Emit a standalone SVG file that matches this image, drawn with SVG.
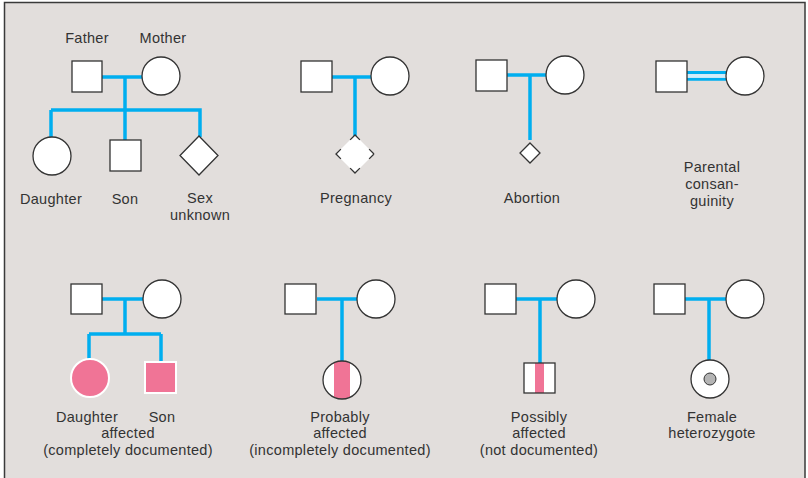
<svg xmlns="http://www.w3.org/2000/svg" width="808" height="478" viewBox="0 0 808 478">
<style>
.bg{fill:#e2dedc;stroke:#3a3a3a;stroke-width:1.5}
.sym{fill:#fff;stroke:#333;stroke-width:1.3}
.aff{fill:#f07496;stroke:#fff;stroke-width:2}
.ln{fill:none;stroke:#00aeef;stroke-width:3.5}
.ln2{fill:none;stroke:#00aeef;stroke-width:3}
text{font-family:"Liberation Sans",Arial,sans-serif;font-size:14.5px;letter-spacing:0.3px;fill:#333;text-anchor:middle}
</style>
<defs>
<clipPath id="cc"><circle cx="342" cy="380" r="19"/></clipPath>
</defs>
<rect class="bg" x="4.5" y="2.5" width="800.5" height="480"/>
<g id="connectors">
<path class="ln" d="M102 77H142M125 77V110M51 110H200V137M51 110V137M125 110V140"/>
<path class="ln" d="M332 77H371M355 77V137"/>
<path class="ln" d="M507 75H546M530 75V140"/>
<path class="ln2" d="M687 72.5H726M687 79.3H726"/>
<path d="M687 76H726" stroke="#cfeefc" stroke-width="3.5" fill="none"/>
<path class="ln" d="M102 299H143M125 299V334M89 334H161M89 334V360M161 334V361"/>
<path class="ln" d="M317 299H357M342 299V361"/>
<path class="ln" d="M516 299H557M540 299V363"/>
<path class="ln" d="M685 299H726M709 299V361"/>
</g>
<g id="father1"><rect class="sym" x="72" y="61" width="30" height="31"/><text x="87" y="43">Father</text></g>
<g id="mother1"><circle class="sym" cx="161" cy="76" r="19"/><text x="163" y="43">Mother</text></g>
<g id="daughter"><circle class="sym" cx="52" cy="156" r="19"/><text x="51" y="204">Daughter</text></g>
<g id="son"><rect class="sym" x="110" y="140" width="31" height="31"/><text x="125" y="204">Son</text></g>
<g id="sexunknown"><path class="sym" d="M199 136L218 155.5L199 175L180 155.5Z"/><text x="200" y="203">Sex</text><text x="200" y="220">unknown</text></g>

<g id="father2"><rect class="sym" x="301" y="61" width="31" height="31"/></g>
<g id="mother2"><circle class="sym" cx="390" cy="76" r="19"/></g>
<g id="pregnancy"><path d="M355 135L374 154L355 173L336 154Z" fill="#fff"/><path d="M355 135L374 154L355 173L336 154Z" fill="none" stroke="#333" stroke-width="1.3" stroke-dasharray="6.9 13.07 6.9 0"/><text x="356" y="203">Pregnancy</text></g>

<g id="father3"><rect class="sym" x="476" y="60" width="31" height="31"/></g>
<g id="mother3"><circle class="sym" cx="565" cy="75" r="19"/></g>
<g id="abortion"><path class="sym" d="M530 143L540 153L530 163L520 153Z"/><text x="532" y="203">Abortion</text></g>

<g id="father4"><rect class="sym" x="656" y="61" width="31" height="31"/></g>
<g id="mother4"><circle class="sym" cx="745" cy="76" r="19"/></g>
<g id="consanguinity"><text x="712" y="172">Parental</text><text x="712" y="189">consan-</text><text x="712" y="205.5">guinity</text></g>

<g id="father5"><rect class="sym" x="71" y="284" width="31" height="30"/></g>
<g id="mother5"><circle class="sym" cx="162" cy="299" r="19"/></g>
<g id="daughteraff"><circle class="aff" cx="90" cy="378" r="19"/><text x="87" y="421.5">Daughter</text></g>
<g id="sonaff"><rect class="aff" x="145" y="362" width="31" height="31"/><text x="162" y="421.5">Son</text></g>
<g id="labelaff"><text x="128" y="438">affected</text><text x="128" y="454.5">(completely documented)</text></g>

<g id="father6"><rect class="sym" x="285" y="284" width="31" height="30"/></g>
<g id="mother6"><circle class="sym" cx="376" cy="299" r="19"/></g>
<g id="probably"><circle cx="342" cy="380" r="19" fill="#fff"/><rect x="334" y="360" width="16" height="40" fill="#f07496" clip-path="url(#cc)"/><circle cx="342" cy="380" r="19" fill="none" stroke="#333" stroke-width="1.3"/><text x="340" y="421.5">Probably</text><text x="340" y="438">affected</text><text x="340" y="454.5">(incompletely documented)</text></g>

<g id="father7"><rect class="sym" x="485" y="284" width="31" height="30"/></g>
<g id="mother7"><circle class="sym" cx="576" cy="299" r="19"/></g>
<g id="possibly"><rect x="524" y="363" width="31" height="30" fill="#fff"/><rect x="535" y="363" width="9" height="30" fill="#f07496"/><rect x="524" y="363" width="31" height="30" fill="none" stroke="#333" stroke-width="1.3"/><text x="539" y="421.5">Possibly</text><text x="539" y="438">affected</text><text x="539" y="454.5">(not documented)</text></g>

<g id="father8"><rect class="sym" x="654" y="284" width="31" height="30"/></g>
<g id="mother8"><circle class="sym" cx="745" cy="299" r="19"/></g>
<g id="heterozygote"><circle class="sym" cx="710" cy="379" r="19"/><circle cx="710" cy="379" r="6" fill="#b4b4b4" stroke="#333" stroke-width="1"/><text x="712" y="421.5">Female</text><text x="712" y="438">heterozygote</text></g>
</svg>
